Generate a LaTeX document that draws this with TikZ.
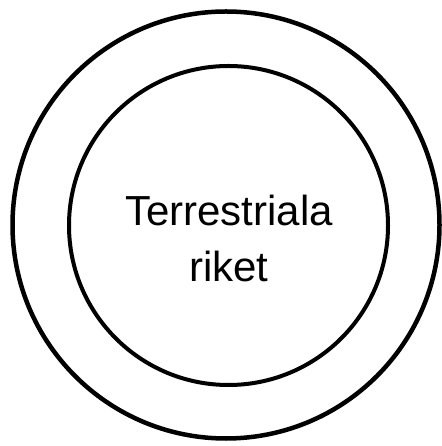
\documentclass[tikz,border=0pt]{standalone}
\usepackage{fontspec}
\setmainfont{Liberation Sans}
\begin{document}
\begin{tikzpicture}[x=1pt,y=1pt,
  ring/.style={draw=black,line width=4.5pt},
  label/.style={align=center,inner sep=0pt,font=\fontsize{42}{56}\selectfont}]
\useasboundingbox (0,0) rectangle (441,446);
\draw[ring] (226,221) circle[radius=213.5];
\draw[ring,line width=4pt] (228.5,220.5) circle[radius=159.5];
\node[label] (txt) at (229,207.5) {Terrestriala\\riket};
\end{tikzpicture}
\end{document}
